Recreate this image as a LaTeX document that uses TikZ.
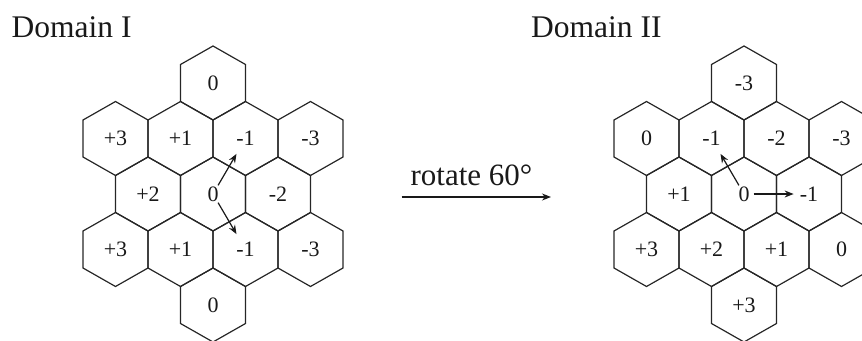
\documentclass[tikz,border=0pt]{standalone}
\usepackage{fontspec}
\setmainfont{Liberation Serif}
\usetikzlibrary{arrows.meta}
\tikzset{
  hexline/.style={draw=black!85, line width=1.2pt, line join=miter},
  lab/.style={font=\fontsize{22}{24}\selectfont, inner sep=1pt, text=black!90},
  ptr/.style={draw=black!90, line width=1.2pt, -{Stealth[length=9pt,width=7pt]}},
  titletext/.style={font=\fontsize{31.5}{34}\selectfont, anchor=base west, inner sep=0pt, text=black!90},
}
\newcommand\hexcell[4]{%
  \draw[hexline] ({#2},{#3-37}) -- ++(32.5,18.5) -- ++(0,37) -- ++(-32.5,18.5) -- ++(-32.5,-18.5) -- ++(0,-37) -- cycle;
  \node[lab] (#1) at ({#2},{#3}) {#4};}
\begin{document}
\begin{tikzpicture}[x=1pt,y=-1pt]
\useasboundingbox (0,0) rectangle (862,340);
\clip (0,0) rectangle (862,340);
% Domain I
\hexcell{La}{213}{83}{0}
\hexcell{Lb}{115.5}{138.5}{+3}
\hexcell{Lc}{180.5}{138.5}{+1}
\hexcell{Ld}{245.5}{138.5}{-1}
\hexcell{Le}{310.5}{138.5}{-3}
\hexcell{Lf}{148}{194}{+2}
\hexcell{Lg}{213}{194}{0}
\hexcell{Lh}{278}{194}{-2}
\hexcell{Li}{115.5}{249.5}{+3}
\hexcell{Lj}{180.5}{249.5}{+1}
\hexcell{Lk}{245.5}{249.5}{-1}
\hexcell{Ll}{310.5}{249.5}{-3}
\hexcell{Lm}{213}{305}{0}
% Domain II
\hexcell{Ra}{744}{83}{-3}
\hexcell{Rb}{646.5}{138.5}{0}
\hexcell{Rc}{711.5}{138.5}{-1}
\hexcell{Rd}{776.5}{138.5}{-2}
\hexcell{Re}{841.5}{138.5}{-3}
\hexcell{Rf}{679}{194}{+1}
\hexcell{Rg}{744}{194}{0}
\hexcell{Rh}{809}{194}{-1}
\hexcell{Ri}{646.5}{249.5}{+3}
\hexcell{Rj}{711.5}{249.5}{+2}
\hexcell{Rk}{776.5}{249.5}{+1}
\hexcell{Rl}{841.5}{249.5}{0}
\hexcell{Rm}{744}{305}{+3}
% arrows inside clusters
\draw[ptr, shorten >=8pt] (Lg) -- (Ld);
\draw[ptr, shorten >=8pt] (Lg) -- (Lk);
\draw[ptr, shorten >=8pt] (Rg) -- (Rc);
\draw[ptr, shorten <=3pt, shorten >=5pt] (Rg) -- (Rh);
% rotate arrow
\coordinate (rs) at (401.5,197);
\coordinate (re) at (551,197);
\draw[ptr] (rs) -- (re);
\node[font=\fontsize{31}{33}\selectfont, anchor=base, inner sep=0pt, text=black!90] (rot) at (471.5,185) {rotate 60°};
% titles
\node[titletext] (t1) at (11.5,37.3) {Domain I};
\node[titletext] (t2) at (531,37.3) {Domain II};
\end{tikzpicture}
\end{document}
